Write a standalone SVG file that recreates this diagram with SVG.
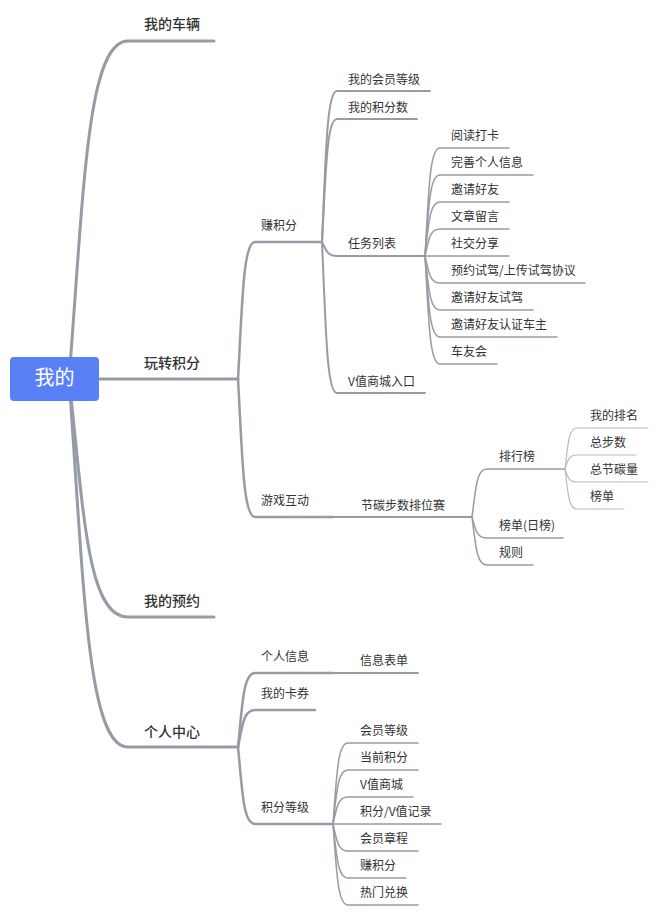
<svg xmlns="http://www.w3.org/2000/svg" width="658" height="916" viewBox="0 0 658 916">
<style>
text{font-family:"Noto Sans CJK SC","Noto Sans",sans-serif;fill:#333}
.t1{font-size:14px;font-weight:500}
.t2{font-size:12px}
.t3{font-size:12px}
.c{fill:none;stroke:#959ca5;stroke-linecap:round}
.w1{stroke-width:3}
.w2{stroke-width:2.5}
.w3{stroke-width:2}
.w4{stroke-width:1.5}
.w5{stroke-width:1.2;stroke:#b7bdc4}
</style>
<rect width="658" height="916" fill="#fff"/>
<g id="connectors">
  <!-- root to level 1 -->
  <path class="c w1" d="M69 379 C83.75 193 86.7 41 128 41 H214"/>
  <path class="c w1" d="M69 379 H238"/>
  <path class="c w1" d="M69 379 C83.75 510 86.7 617 128 617 H214"/>
  <path class="c w1" d="M69 379 C83.75 581 86.7 747 128 747 H238"/>
  <!-- 玩转积分 children -->
  <path class="c w2" d="M238 379 C242.3 303 243.1 242 255 242 H322"/>
  <path class="c w2" d="M238 379 C242.3 455 243.1 517 255 517 H333"/>
  <!-- 赚积分 children -->
  <path class="c w3" d="M322 242 C325.8 158 326.5 91 337 91 H430"/>
  <path class="c w3" d="M322 242 C325.8 174 326.5 119 337 119 H417"/>
  <path class="c w3" d="M322 242 C325.8 249 326.5 256 337 256 H425"/>
  <path class="c w3" d="M322 242 C325.8 325 326.5 393 337 393 H425"/>
  <!-- 任务列表 children -->
  <path class="c w4" d="M425 256 C428.8 191 429.5 148 440 148 H509"/>
  <path class="c w4" d="M425 256 C428.8 207 429.5 175 440 175 H533"/>
  <path class="c w4" d="M425 256 C428.8 223 429.5 202 440 202 H509"/>
  <path class="c w4" d="M425 256 C428.8 240 429.5 229 440 229 H509"/>
  <path class="c w4" d="M425 256 H509"/>
  <path class="c w4" d="M425 256 C428.8 272 429.5 283 440 283 H585"/>
  <path class="c w4" d="M425 256 C428.8 288 429.5 310 440 310 H533"/>
  <path class="c w4" d="M425 256 C428.8 304 429.5 337 440 337 H557"/>
  <path class="c w4" d="M425 256 C428.8 321 429.5 364 440 364 H497"/>
  <!-- 游戏互动 -> 节碳步数排位赛 -->
  <path class="c w3" d="M333 517 H472"/>
  <!-- 节碳步数排位赛 children -->
  <path class="c w4" d="M472 517 C475.8 488 476.5 469 487 469 H565"/>
  <path class="c w4" d="M472 517 C475.8 530 476.5 538 487 538 H563"/>
  <path class="c w4" d="M472 517 C475.8 546 476.5 565 487 565 H533"/>
  <!-- 排行榜 children -->
  <path class="c w5" d="M565 469 C568 444 568.5 428 577 428 H648"/>
  <path class="c w5" d="M565 469 C568 460 568.5 455 577 455 H636"/>
  <path class="c w5" d="M565 469 C568 477 568.5 482 577 482 H648"/>
  <path class="c w5" d="M565 469 C568 493 568.5 509 577 509 H624"/>
  <!-- 个人中心 children -->
  <path class="c w2" d="M238 747 C242.3 706 243.1 673 255 673 H333"/>
  <path class="c w2" d="M238 747 C242.3 727 243.1 710 255 710 H315"/>
  <path class="c w2" d="M238 747 C242.3 790 243.1 824 255 824 H333"/>
  <!-- 个人信息 -> 信息表单 -->
  <path class="c w3" d="M333 673 H418"/>
  <!-- 积分等级 children -->
  <path class="c w4" d="M333 824 C336.8 775 337.5 743 348 743 H418"/>
  <path class="c w4" d="M333 824 C336.8 792 337.5 770 348 770 H418"/>
  <path class="c w4" d="M333 824 C336.8 808 337.5 797 348 797 H413"/>
  <path class="c w4" d="M333 824 H441"/>
  <path class="c w4" d="M333 824 C336.8 840 337.5 851 348 851 H418"/>
  <path class="c w4" d="M333 824 C336.8 856 337.5 878 348 878 H406"/>
  <path class="c w4" d="M333 824 C336.8 873 337.5 905 348 905 H418"/>
</g>
<g id="root">
  <rect x="10" y="357" width="89" height="44" rx="4" fill="#5a80f6"/>
  <text x="54.5" y="385" text-anchor="middle" style="font-size:20px;fill:#fff">我的</text>
</g>
<g id="n-vehicle"><text class="t1" x="144" y="29">我的车辆</text></g>
<g id="n-points"><text class="t1" x="144" y="368">玩转积分</text></g>
<g id="n-booking"><text class="t1" x="144" y="606">我的预约</text></g>
<g id="n-center"><text class="t1" x="144" y="737">个人中心</text></g>

<g id="n-earn"><text class="t2" x="261" y="230">赚积分</text></g>
<g id="n-game"><text class="t2" x="261" y="505">游戏互动</text></g>

<g id="n-level"><text class="t3" x="348" y="84">我的会员等级</text></g>
<g id="n-score"><text class="t3" x="348" y="112">我的积分数</text></g>
<g id="n-tasks"><text class="t3" x="348" y="248">任务列表</text></g>
<g id="n-vmall"><text class="t3" x="348" y="386">V值商城入口</text></g>

<g id="n-t1"><text class="t3" x="451" y="140">阅读打卡</text></g>
<g id="n-t2"><text class="t3" x="451" y="167">完善个人信息</text></g>
<g id="n-t3"><text class="t3" x="451" y="194">邀请好友</text></g>
<g id="n-t4"><text class="t3" x="451" y="221">文章留言</text></g>
<g id="n-t5"><text class="t3" x="451" y="248">社交分享</text></g>
<g id="n-t6"><text class="t3" x="451" y="275">预约试驾/上传试驾协议</text></g>
<g id="n-t7"><text class="t3" x="451" y="302">邀请好友试驾</text></g>
<g id="n-t8"><text class="t3" x="451" y="329">邀请好友认证车主</text></g>
<g id="n-t9"><text class="t3" x="451" y="356">车友会</text></g>

<g id="n-race"><text class="t3" x="361" y="510">节碳步数排位赛</text></g>
<g id="n-rank"><text class="t3" x="499" y="461">排行榜</text></g>
<g id="n-daily"><text class="t3" x="499" y="530">榜单(日榜)</text></g>
<g id="n-rules"><text class="t3" x="499" y="557">规则</text></g>

<g id="n-r1"><text class="t3" x="590" y="420">我的排名</text></g>
<g id="n-r2"><text class="t3" x="590" y="447">总步数</text></g>
<g id="n-r3"><text class="t3" x="590" y="474">总节碳量</text></g>
<g id="n-r4"><text class="t3" x="590" y="501">榜单</text></g>

<g id="n-info"><text class="t2" x="261" y="661">个人信息</text></g>
<g id="n-form"><text class="t3" x="360" y="665">信息表单</text></g>
<g id="n-coupon"><text class="t2" x="261" y="698">我的卡券</text></g>
<g id="n-plevel"><text class="t2" x="261" y="812">积分等级</text></g>

<g id="n-p1"><text class="t3" x="360" y="735">会员等级</text></g>
<g id="n-p2"><text class="t3" x="360" y="762">当前积分</text></g>
<g id="n-p3"><text class="t3" x="360" y="789">V值商城</text></g>
<g id="n-p4"><text class="t3" x="360" y="816">积分/V值记录</text></g>
<g id="n-p5"><text class="t3" x="360" y="843">会员章程</text></g>
<g id="n-p6"><text class="t3" x="360" y="870">赚积分</text></g>
<g id="n-p7"><text class="t3" x="360" y="897">热门兑换</text></g>
</svg>
